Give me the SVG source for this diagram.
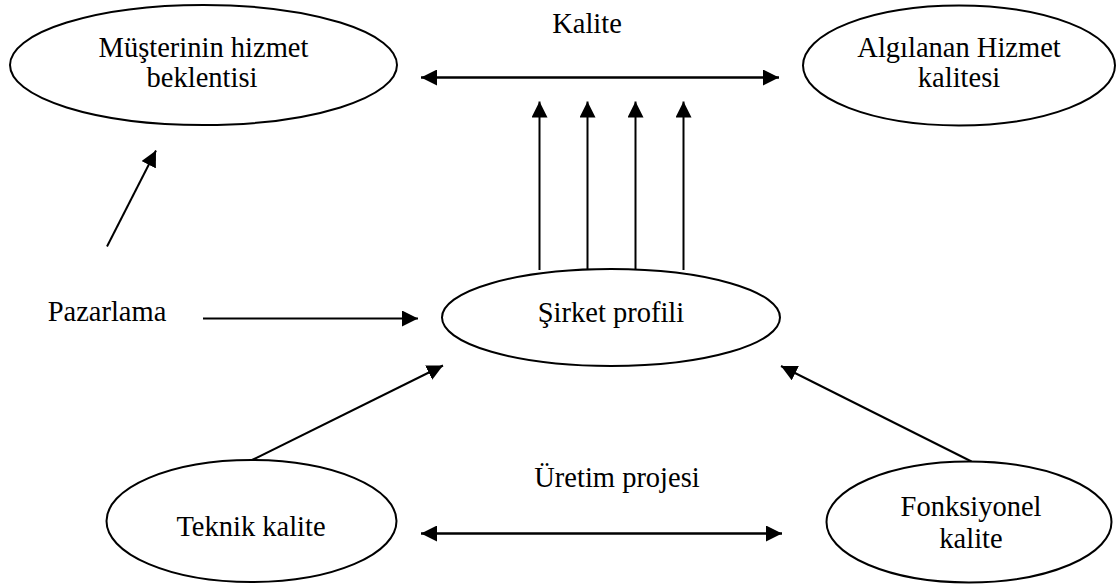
<svg xmlns="http://www.w3.org/2000/svg" width="1116" height="585" viewBox="0 0 1116 585">
  <style>
    .node ellipse { fill: #ffffff; stroke: #000000; stroke-width: 2; }
    .label { font-family: "Liberation Serif", "Times New Roman", serif; font-size: 28.5px; fill: #000000; text-anchor: middle; }
    .edge { stroke: #000000; stroke-width: 2; fill: none; }
    .edge.bold { stroke-width: 2.5; }
  </style>
  <defs>
    <marker id="head" viewBox="0 0 16 16" refX="16" refY="8" markerWidth="16" markerHeight="16" markerUnits="userSpaceOnUse" orient="auto-start-reverse">
      <path d="M0,0 L16,8 L0,16 Z" fill="#000000"/>
    </marker>
  </defs>
  <rect width="1116" height="585" fill="#ffffff"/>

  <!-- connectors -->
  <g id="connectors">
    <line class="edge bold" x1="421" y1="77.5" x2="779" y2="77.5" marker-start="url(#head)" marker-end="url(#head)"/>
    <line class="edge" x1="539.5" y1="270" x2="539.5" y2="101.5" marker-end="url(#head)"/>
    <line class="edge" x1="587.5" y1="270" x2="587.5" y2="101.5" marker-end="url(#head)"/>
    <line class="edge" x1="635.5" y1="270" x2="635.5" y2="101.5" marker-end="url(#head)"/>
    <line class="edge" x1="683.5" y1="270" x2="683.5" y2="101.5" marker-end="url(#head)"/>
    <line class="edge" x1="203" y1="318.5" x2="418" y2="318.5" marker-end="url(#head)"/>
    <line class="edge" x1="107" y1="246.5" x2="156" y2="150.5" marker-end="url(#head)"/>
    <line class="edge" x1="252" y1="460" x2="443" y2="365.5" marker-end="url(#head)"/>
    <line class="edge" x1="971.5" y1="461.5" x2="781" y2="366" marker-end="url(#head)"/>
    <line class="edge bold" x1="421" y1="533.5" x2="782" y2="533.5" marker-start="url(#head)" marker-end="url(#head)"/>
  </g>

  <!-- edge labels and free text -->
  <text id="label-kalite" class="label" x="587" y="33">Kalite</text>
  <text id="label-uretim" class="label" x="617" y="487">Üretim projesi</text>
  <text id="label-pazarlama" class="label" x="107" y="321">Pazarlama</text>

  <!-- nodes -->
  <g id="node-musteri" class="node">
    <ellipse cx="203.5" cy="65" rx="193.5" ry="60"/>
    <text class="label" x="203.5" y="57">Müşterinin hizmet</text>
    <text class="label" x="202" y="87">beklentisi</text>
  </g>
  <g id="node-algilanan" class="node">
    <ellipse cx="959" cy="65.5" rx="156" ry="60"/>
    <text class="label" x="959" y="57">Algılanan Hizmet</text>
    <text class="label" x="959" y="87">kalitesi</text>
  </g>
  <g id="node-sirket" class="node">
    <ellipse cx="611" cy="317.5" rx="169" ry="48.5"/>
    <text class="label" x="611" y="322">Şirket profili</text>
  </g>
  <g id="node-teknik" class="node">
    <ellipse cx="251.5" cy="521" rx="145" ry="61"/>
    <text class="label" x="251" y="536">Teknik kalite</text>
  </g>
  <g id="node-fonksiyonel" class="node">
    <ellipse cx="969" cy="522" rx="142.5" ry="60.5"/>
    <text class="label" x="971" y="516">Fonksiyonel</text>
    <text class="label" x="971" y="548">kalite</text>
  </g>
</svg>
